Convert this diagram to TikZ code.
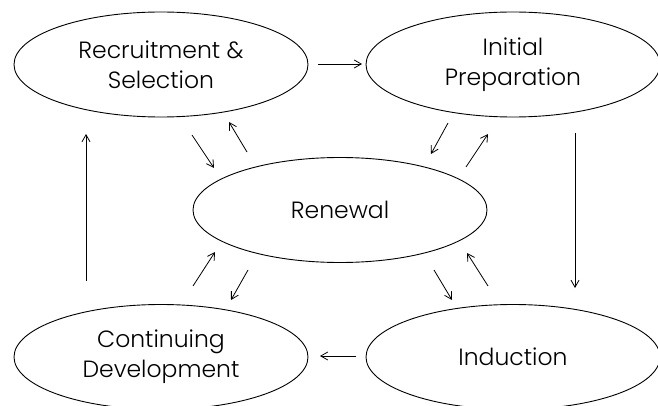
\documentclass[tikz,border=0pt]{standalone}
\usepackage{fontspec}
\setmainfont{Poppins}[UprightFont={* Light}]
\usetikzlibrary{shapes.geometric,arrows.meta}
\begin{document}
\begin{tikzpicture}[x=1pt,y=-1pt,
  stage/.style={ellipse,draw,line width=0.9pt,minimum width=294pt,minimum height=105pt,inner sep=0pt,
    align=center,font=\fontsize{23.5}{30}\selectfont},
  flow/.style={-{Straight Barb[length=7pt,width=8pt,line width=0.8pt]},line width=0.8pt}]
\useasboundingbox (0,0) rectangle (658,406);
\node[stage] (rs) at (161,64.5) {Recruitment \&\\Selection};
\node[stage] (ip) at (513,64.5) {Initial\\Preparation};
\node[stage] (rn) at (340,210) {Renewal};
\node[stage] (cd) at (161,357) {Continuing\\Development};
\node[stage] (in) at (513,357) {Induction};
% endpoints
\coordinate (a1) at (318,64); \coordinate (a2) at (362,64);
\coordinate (b1) at (575,133); \coordinate (b2) at (575,288);
\coordinate (c1) at (356,356); \coordinate (c2) at (320,356);
\coordinate (d1) at (86,281); \coordinate (d2) at (86,134);
\coordinate (e1) at (192,135); \coordinate (e2) at (214,168);
\coordinate (f1) at (247,152); \coordinate (f2) at (229,122);
\coordinate (g1) at (448,123); \coordinate (g2) at (431,154);
\coordinate (h1) at (466,167); \coordinate (h2) at (488,134);
\coordinate (i1) at (434,270); \coordinate (i2) at (452,300);
\coordinate (j1) at (488,286); \coordinate (j2) at (467,253);
\coordinate (k1) at (193,286); \coordinate (k2) at (215,252);
\coordinate (l1) at (248,270); \coordinate (l2) at (231,300);
\draw[flow] (a1) -- (a2);
\draw[flow] (b1) -- (b2);
\draw[flow] (c1) -- (c2);
\draw[flow] (d1) -- (d2);
\draw[flow] (e1) -- (e2);
\draw[flow] (f1) -- (f2);
\draw[flow] (g1) -- (g2);
\draw[flow] (h1) -- (h2);
\draw[flow] (i1) -- (i2);
\draw[flow] (j1) -- (j2);
\draw[flow] (k1) -- (k2);
\draw[flow] (l1) -- (l2);
\end{tikzpicture}
\end{document}
